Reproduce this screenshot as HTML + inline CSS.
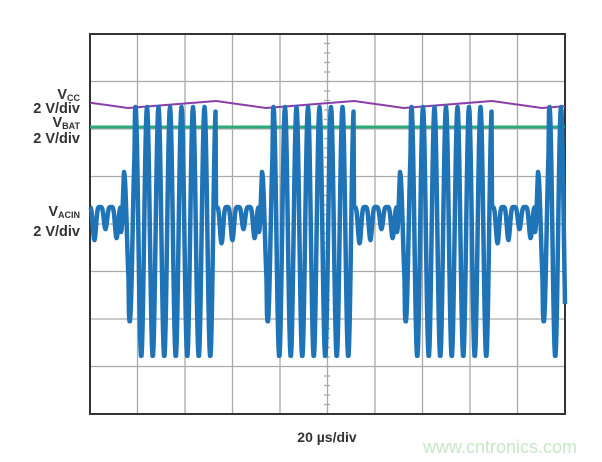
<!DOCTYPE html>
<html><head><meta charset="utf-8">
<style>
body{margin:0;background:#fff;width:602px;height:462px;overflow:hidden;font-family:"Liberation Sans",Arial,sans-serif}
.l{position:absolute;font-weight:bold;font-size:14.5px;color:#333;text-align:right;width:80px;left:0}
.l sub{font-size:9px;vertical-align:-2px}
</style></head><body>
<svg id="s" width="602" height="462" style="position:absolute;left:0;top:0">
<g id="grid" stroke="#aaa" stroke-width="1.3"></g>
<rect x="90" y="34" width="475" height="380" fill="none" stroke="#333" stroke-width="2"/>
<path id="vcc" fill="none" stroke="#8a3fa8" stroke-width="2"/>
<line x1="90" y1="127" x2="565" y2="127" stroke="#2daa7a" stroke-width="3"/>
<path id="ac" fill="none" stroke="#1f73b7" stroke-width="4.5" stroke-linejoin="round"/>
<text x="327" y="442" text-anchor="middle" font-size="14" font-weight="bold" fill="#333">20 µs/div</text>
<text x="500" y="453" text-anchor="middle" font-size="18" fill="#c8e6c8">www.cntronics.com</text>
</svg>
<div class="l" style="top:87px">V<sub>CC</sub></div>
<div class="l" style="top:101px">2 V/div</div>
<div class="l" style="top:115px">V<sub>BAT</sub></div>
<div class="l" style="top:131px">2 V/div</div>
<div class="l" style="top:204px">V<sub>ACIN</sub></div>
<div class="l" style="top:224px">2 V/div</div>
<script>
var g=document.getElementById('grid'),h='';
for(var i=1;i<10;i++){var x=90+47.5*i;h+='<line x1="'+x+'" y1="34" x2="'+x+'" y2="414"/>';}
for(var j=1;j<8;j++){var y=34+47.5*j;h+='<line x1="90" y1="'+y+'" x2="565" y2="'+y+'"/>';}
for(var k=0;k<40;k++){var y=34+9.5*k;h+='<line x1="324" y1="'+y+'" x2="330" y2="'+y+'"/>';}
g.innerHTML=h;
var v='',a='';
for(var x=90;x<=565;x+=0.5){
 var p=((x-121)%138+138)%138;
 var yv;
 var pv=((x-128)%138+138)%138;
 if(pv<88) yv=108-7*(pv/88); else yv=101+7*((pv-88)/50);
 v+=(x==90?'M':'L')+x+' '+yv.toFixed(1);
 var y;
 if(p<95){
  var amp=p<8?60:(p<14?90:125);
  y=232-amp*Math.cos(2*Math.PI*(p-3)/11.5)*(p<3?p/3:1);
  y=Math.max(107,Math.min(358,y));
 } else {
  var q=p-95;
  var c=(1-Math.cos(2*Math.PI*q/11))/2;
  y=207+(30+8*Math.sin(q/6))*Math.pow(c,2.5);
 }
 a+=(x==90?'M':'L')+x+' '+y.toFixed(1);
}
document.getElementById('vcc').setAttribute('d',v);
document.getElementById('ac').setAttribute('d',a);
</script>
</body></html>
